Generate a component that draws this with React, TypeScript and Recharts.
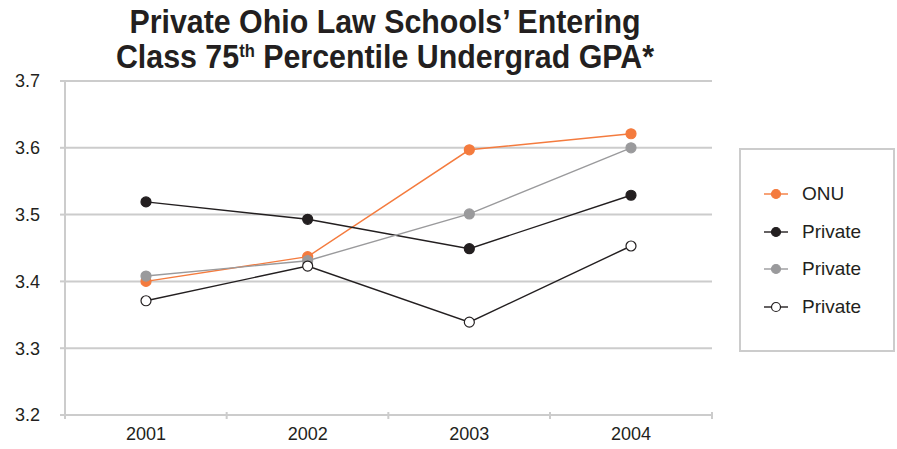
import { LineChart, Line, XAxis, YAxis, CartesianGrid } from "recharts";

const years = ["2001", "2002", "2003", "2004"];
const onu = [3.4, 3.437, 3.597, 3.621];
const privateA = [3.519, 3.493, 3.449, 3.529];
const privateB = [3.408, 3.431, 3.501, 3.6];
const privateC = [3.371, 3.423, 3.339, 3.453];
const yTicks = [3.2, 3.3, 3.4, 3.5, 3.6, 3.7];

const series = [
  { key: "onu", name: "ONU", stroke: "#f47b3e", fill: "#f47b3e" },
  { key: "privateA", name: "Private", stroke: "#231f20", fill: "#231f20" },
  { key: "privateB", name: "Private", stroke: "#9a9a9c", fill: "#9a9a9c" },
  { key: "privateC", name: "Private", stroke: "#231f20", fill: "#ffffff" },
];

const data = years.map((year, i) => ({
  year,
  onu: onu[i],
  privateA: privateA[i],
  privateB: privateB[i],
  privateC: privateC[i],
}));

const grey = "#cccccc";
const fontFamily = "Liberation Sans, Arial, sans-serif";
const halfBand = 81; // same as the axis padding, so the marks sit on category edges

// year label plus small crossing marks on the category boundaries
function YearTick(props: any) {
  const { x, y, payload, index, visibleTicksCount } = props;
  const axisY = y - 12;
  const last = index === visibleTicksCount - 1;
  return (
    <g>
      <line x1={x - halfBand} x2={x - halfBand} y1={axisY - 3} y2={axisY + 4} stroke={grey} strokeWidth={2} />
      {last && <line x1={x + halfBand} x2={x + halfBand} y1={axisY - 3} y2={axisY + 4} stroke={grey} strokeWidth={2} />}
      <text x={x} y={y} dy={13} textAnchor="middle" fontFamily={fontFamily} fontSize={18} fill="#231f20">
        {payload.value}
      </text>
    </g>
  );
}

function LegendBox() {
  return (
    <div
      style={{
        position: "absolute",
        left: 739,
        top: 148,
        width: 156,
        height: 204,
        boxSizing: "border-box",
        border: `2px solid ${grey}`,
        fontFamily,
        fontSize: 19,
        color: "#231f20",
      }}
    >
      {series.map((s, i) => (
        <div
          key={s.key}
          style={{ position: "absolute", left: 22, top: 31 + i * 37.7, height: 26, display: "flex", alignItems: "center" }}
        >
          <svg width={26} height={12} style={{ marginRight: 13 }}>
            <line x1={1} y1={6} x2={25} y2={6} stroke={s.stroke} strokeWidth={1.4} />
            <circle cx={13} cy={6} r={4.5} fill={s.fill} stroke={s.stroke} strokeWidth={1.2} />
          </svg>
          <span>{s.name}</span>
        </div>
      ))}
    </div>
  );
}

export default function App() {
  return (
    <div style={{ position: "absolute", left: 0, top: 0, width: 897, height: 449, background: "#fff" }}>
      <div
        style={{
          position: "absolute",
          left: 0,
          top: 4,
          width: 770,
          textAlign: "center",
          fontFamily,
          fontWeight: "bold",
          fontSize: 33,
          lineHeight: "35px",
          color: "#231f20",
          transform: "scaleX(0.92)",
          transformOrigin: "385px 0",
        }}
      >
        Private Ohio Law Schools’ Entering
        <br />
        Class 75<sup style={{ fontSize: 18, verticalAlign: "top", lineHeight: "24px" }}>th</sup> Percentile Undergrad GPA*
      </div>
      <LineChart width={897} height={449} data={data} margin={{ top: 81, right: 185, bottom: 0, left: 0 }}>
        <CartesianGrid vertical={false} stroke={grey} strokeWidth={2} />
        <XAxis
          dataKey="year"
          height={34}
          padding={{ left: halfBand, right: halfBand }}
          axisLine={{ stroke: grey, strokeWidth: 2 }}
          tickLine={false}
          tickSize={0}
          tickMargin={12}
          tick={<YearTick />}
        />
        <YAxis
          domain={[3.2, 3.7]}
          ticks={yTicks}
          width={65}
          axisLine={{ stroke: grey, strokeWidth: 2 }}
          tickLine={{ stroke: grey, strokeWidth: 2 }}
          tickSize={5}
          tickMargin={20}
          tick={{ fontFamily, fontSize: 18, fill: "#231f20" }}
          tickFormatter={(v: number) => v.toFixed(1)}
        />
        <YAxis
          yAxisId="right"
          orientation="right"
          domain={[3.2, 3.7]}
          width={0}
          tick={false}
          tickLine={false}
          axisLine={{ stroke: grey, strokeWidth: 2 }}
        />
        {series.map((s) => (
          <Line
            key={s.key}
            dataKey={s.key}
            name={s.name}
            stroke={s.stroke}
            strokeWidth={1.4}
            dot={{ r: 5, fill: s.fill, stroke: s.stroke, strokeWidth: 1.2 }}
            activeDot={false}
            isAnimationActive={false}
          />
        ))}
      </LineChart>
      <LegendBox />
    </div>
  );
}
